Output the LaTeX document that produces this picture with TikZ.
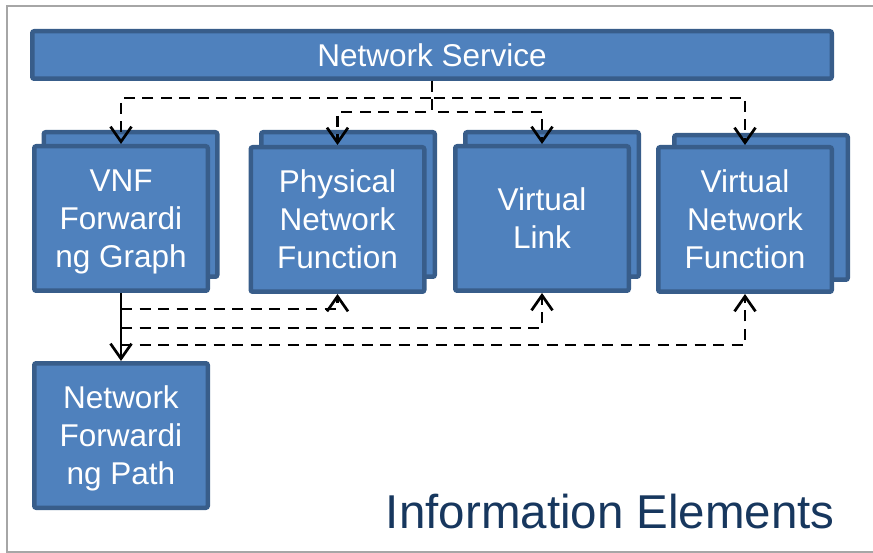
\documentclass[tikz,border=0pt]{standalone}
\usepackage{fontspec}
\setmainfont{Liberation Sans}
\usetikzlibrary{arrows.meta}
\definecolor{boxfill}{HTML}{4F81BD}
\definecolor{boxline}{HTML}{385D8A}
\definecolor{titlecol}{HTML}{17375E}
\definecolor{framecol}{HTML}{A6A6A6}
\tikzset{
  elem/.style={draw=boxline, fill=boxfill, line width=4.5pt, rounded corners=2pt,
    minimum width=173.5pt, minimum height=144.5pt, inner sep=0pt, align=center,
    text depth=0pt, text=white, font=\fontsize{31.5}{38}\selectfont},
  barbox/.style={elem, minimum width=799.5pt, minimum height=47.5pt},
  dep/.style={draw=black, line width=2.7pt, dash pattern=on 11pt off 7.5pt,
    -{Straight Barb[length=15pt,width=21pt]}},
  solidarrow/.style={draw=black, line width=2.7pt,
    -{Straight Barb[length=15pt,width=21pt]}},
}
\begin{document}
\begin{tikzpicture}[x=1pt,y=-1pt]
\useasboundingbox (0,0) rectangle (873,553);
% frame
\draw[framecol, line width=2pt] (873,6) -- (7,6) -- (7,552) -- (873,552);
% back boxes
\node[elem] (fgb)  at (130.5,204.5) {};
\node[elem] (pnfb) at (348,204.5) {};
\node[elem] (vlb)  at (552,204.5) {};
\node[elem] (vnfb) at (761,207.5) {};
% front boxes
\node[elem] (fg)  at (121,218.5) {VNF\\Forwardi\\ng Graph};
\node[elem] (pnf) at (337.5,219.5) {Physical\\Network\\Function};
\node[elem] (vl)  at (542,218.5) {Virtual\\Link};
\node[elem] (vnf) at (745,219.5) {Virtual\\Network\\Function};
\node[elem] (nfp) at (121,435.5) {Network\\Forwardi\\ng Path};
\node[barbox] (ns) at (432,55) {Network Service};
% connectors from network service
\draw[dep] (ns.south) -- ++(0,17) -| (fg.north);
\draw[dep] (ns.south) -- ++(0,17) -| (vnf.north);
\draw[dep] (ns.south) -- ++(0,31) -| (pnf.north);
\draw[dep] (ns.south) -- ++(0,31) -| (vl.north);
% forwarding graph
\draw[solidarrow] (fg.south) -- (nfp.north);
\draw[dep] ([yshift=-16pt]fg.south) -| (pnf.south);
\draw[dep] ([yshift=-35pt]fg.south) -| (vl.south);
\draw[dep] ([yshift=-52pt]fg.south) -| (vnf.south);
% title
\node[anchor=base east, inner sep=0pt, text=titlecol, font=\fontsize{47.5}{52}\selectfont] (title) at (835,528) {Information Elements};
\end{tikzpicture}
\end{document}
